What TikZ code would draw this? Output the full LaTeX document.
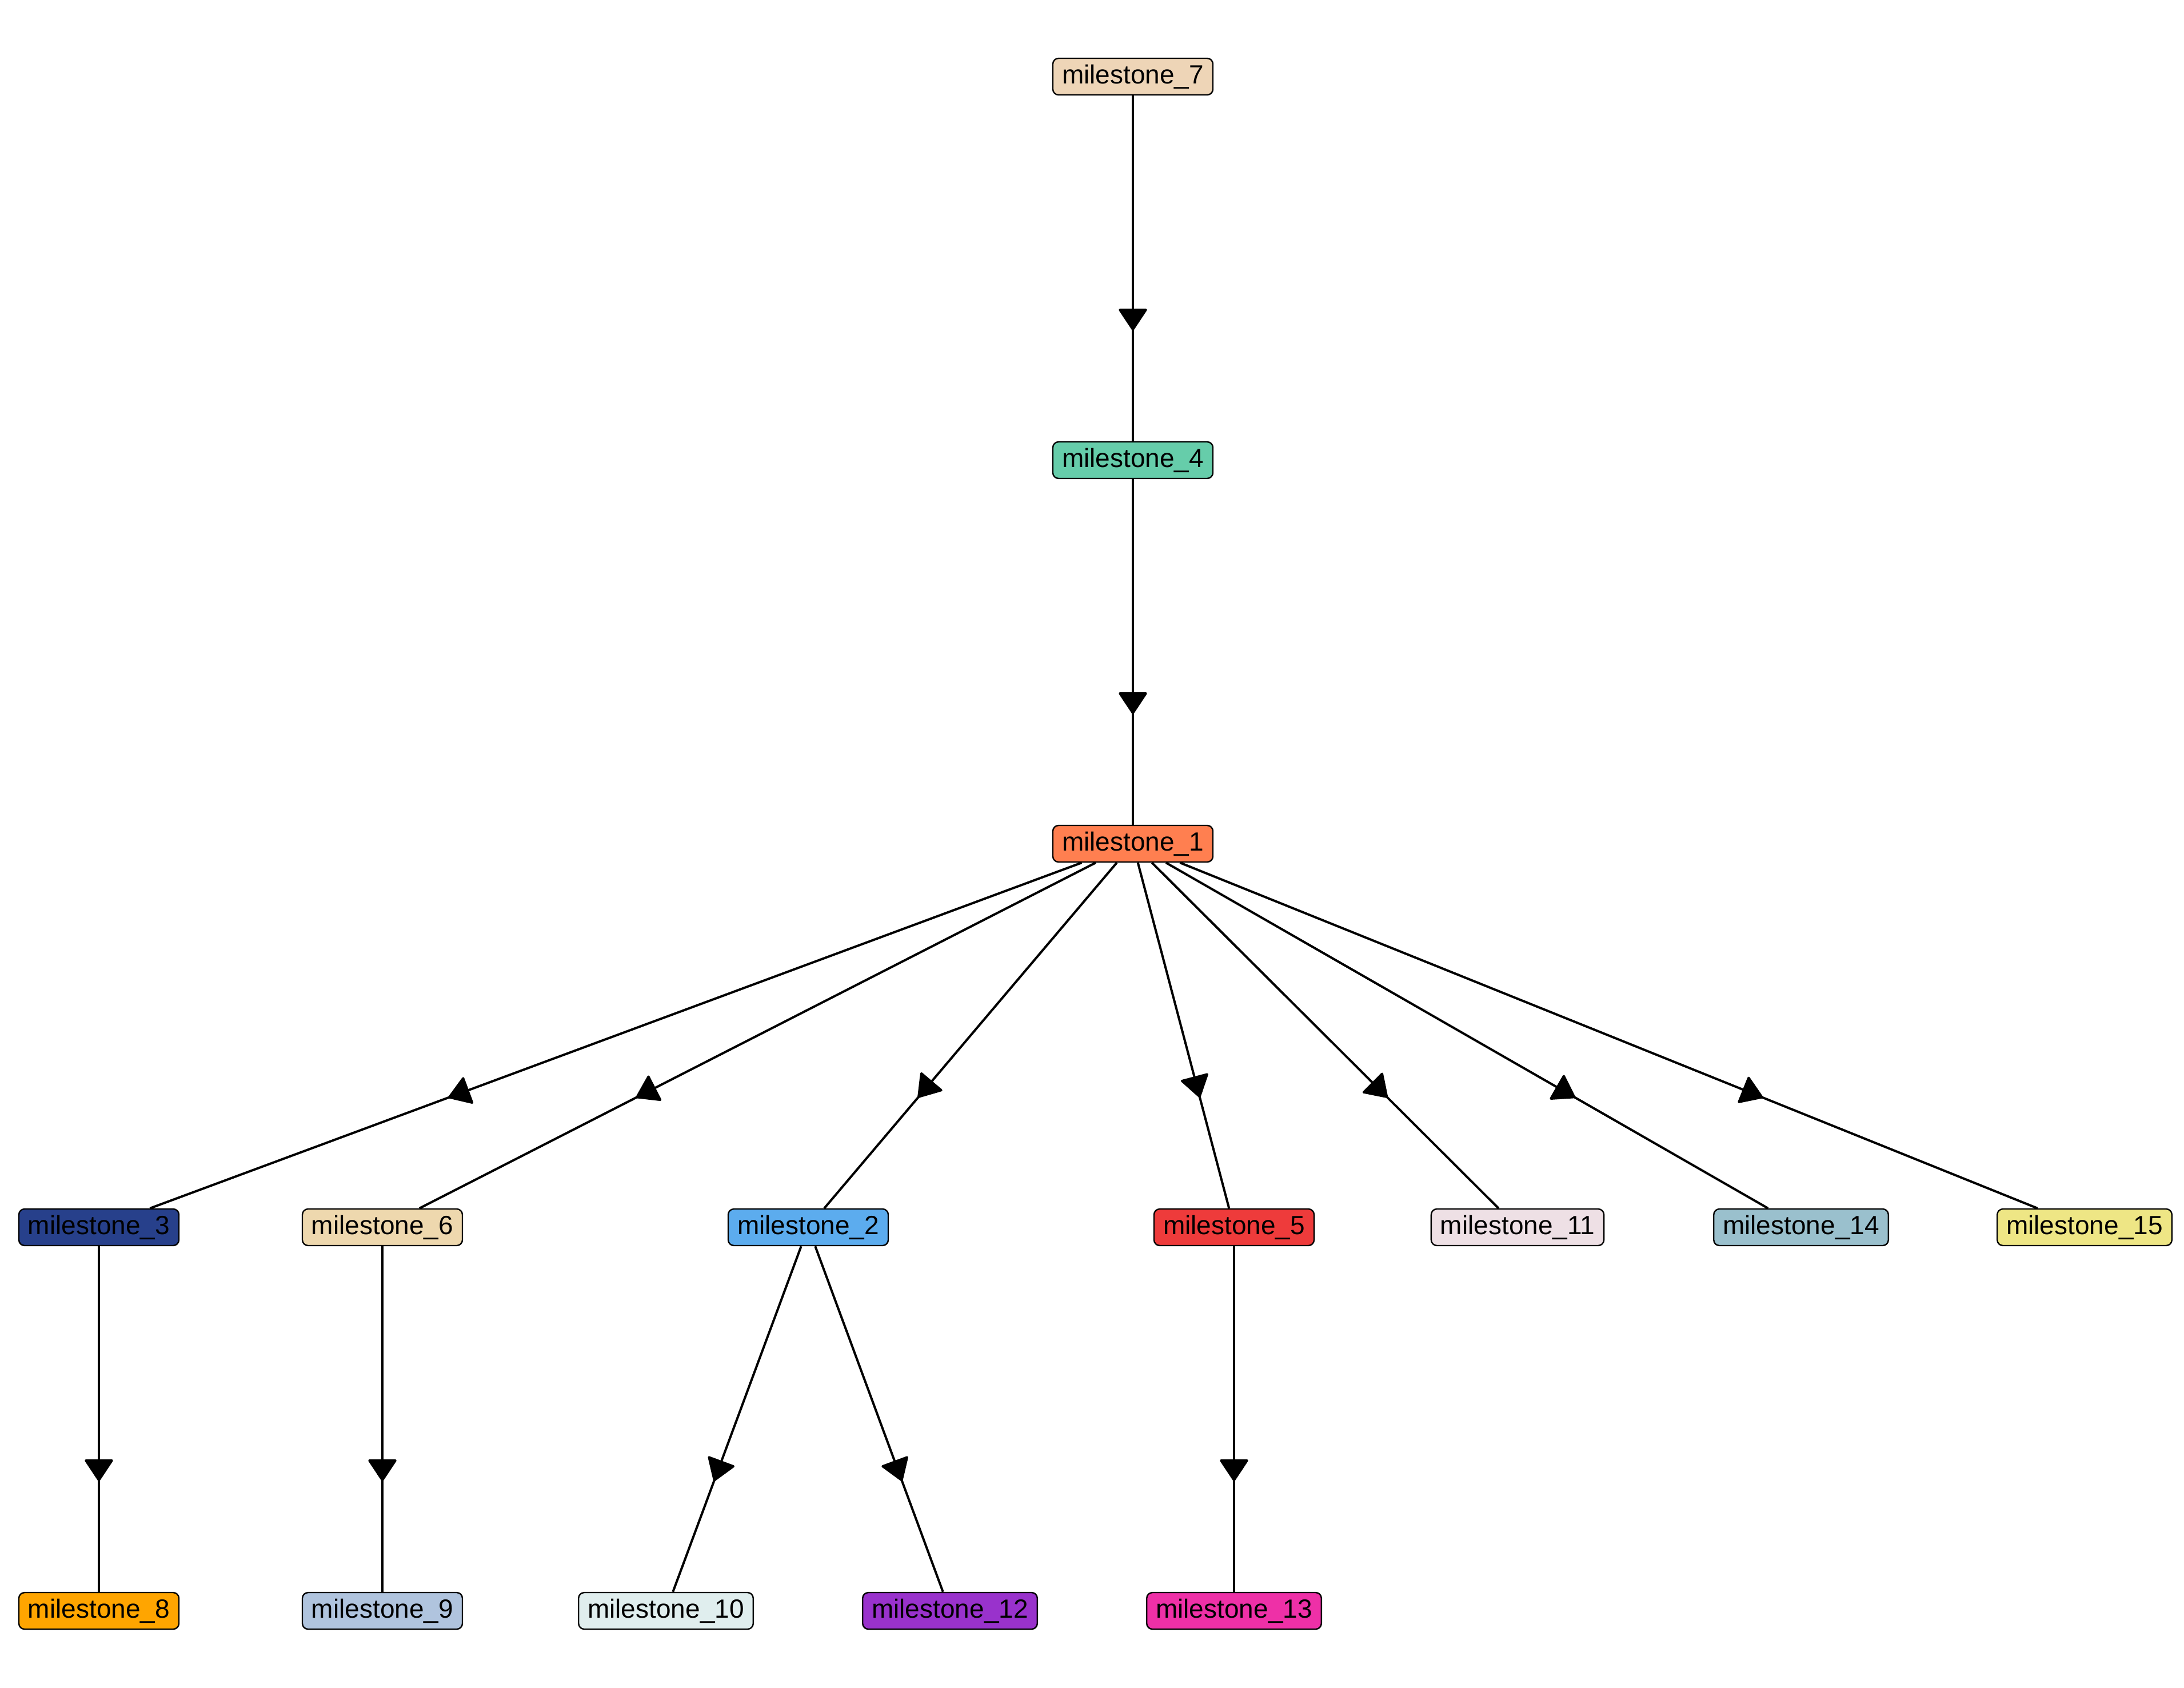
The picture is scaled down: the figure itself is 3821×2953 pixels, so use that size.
\documentclass[tikz,border=0pt]{standalone}
\usepackage{fontspec}
\setmainfont{Liberation Sans}
\usetikzlibrary{arrows.meta,decorations.markings}
\definecolor{c1}{RGB}{255,127,80}
\definecolor{c2}{RGB}{92,172,238}
\definecolor{c3}{RGB}{39,64,139}
\definecolor{c4}{RGB}{102,205,170}
\definecolor{c5}{RGB}{238,59,59}
\definecolor{c6}{RGB}{238,216,174}
\definecolor{c7}{RGB}{238,213,183}
\definecolor{c8}{RGB}{255,165,0}
\definecolor{c9}{RGB}{176,196,222}
\definecolor{c10}{RGB}{224,238,238}
\definecolor{c11}{RGB}{238,224,229}
\definecolor{c12}{RGB}{153,50,204}
\definecolor{c13}{RGB}{238,48,167}
\definecolor{c14}{RGB}{154,192,205}
\definecolor{c15}{RGB}{238,230,133}
\begin{document}
\begin{tikzpicture}[x=0.25pt,y=-0.25pt,
  ms/.style={draw=black, line width=0.6pt, rounded corners=2.5pt, minimum height=16pt,
    inner xsep=4pt, inner ysep=0pt, font=\fontsize{11.5}{13}\selectfont, text=black, fill=#1},
  link/.style={line width=1pt, postaction={decorate},
    decoration={markings, mark=at position 0.68 with {\arrow{Triangle[length=10pt,width=13pt,round]}}}}]
\useasboundingbox (0,0) rectangle (3821,2953);
\node[ms=c7]  (n7)  at (1982,134)  {milestone\_7};
\node[ms=c4]  (n4)  at (1982,805)  {milestone\_4};
\node[ms=c1]  (n1)  at (1982,1476) {milestone\_1};
\node[ms=c3]  (n3)  at (173,2147)  {milestone\_3};
\node[ms=c6]  (n6)  at (669,2147)  {milestone\_6};
\node[ms=c2]  (n2)  at (1414,2147) {milestone\_2};
\node[ms=c5]  (n5)  at (2159,2147) {milestone\_5};
\node[ms=c11] (n11) at (2655,2147) {milestone\_11};
\node[ms=c14] (n14) at (3151,2147) {milestone\_14};
\node[ms=c15] (n15) at (3647,2147) {milestone\_15};
\node[ms=c8]  (n8)  at (173,2818)  {milestone\_8};
\node[ms=c9]  (n9)  at (669,2818)  {milestone\_9};
\node[ms=c10] (n10) at (1165,2818) {milestone\_10};
\node[ms=c12] (n12) at (1662,2818) {milestone\_12};
\node[ms=c13] (n13) at (2159,2818) {milestone\_13};
\draw[link] (n7) -- (n4);
\draw[link] (n4) -- (n1);
\draw[link] (n1) -- (n3);
\draw[link] (n1) -- (n6);
\draw[link] (n1) -- (n2);
\draw[link] (n1) -- (n5);
\draw[link] (n1) -- (n11);
\draw[link] (n1) -- (n14);
\draw[link] (n1) -- (n15);
\draw[link] (n3) -- (n8);
\draw[link] (n6) -- (n9);
\draw[link] (n2) -- (n10);
\draw[link] (n2) -- (n12);
\draw[link] (n5) -- (n13);
\end{tikzpicture}
\end{document}
